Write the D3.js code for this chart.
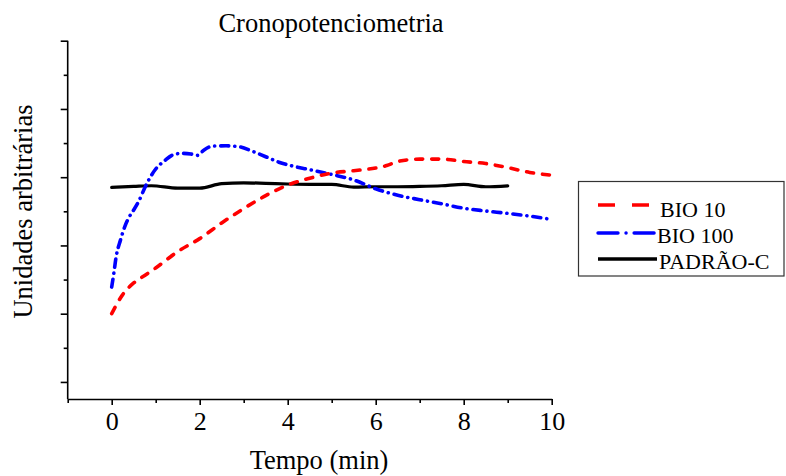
<!DOCTYPE html>
<html>
<head>
<meta charset="utf-8">
<script src="https://cdn.jsdelivr.net/npm/d3@7"></script>
<style>
  html, body { margin: 0; padding: 0; background: #fff; }
  svg { display: block; }
  text { font-family: "Liberation Serif", "Times New Roman", serif; fill: #000; }
</style>
</head>
<body>
<svg id="chart" width="786" height="476"></svg>
<script>
// ---- data ----
const title = "Cronopotenciometria";
const xLabel = "Tempo (min)";
const yLabel = "Unidades arbitrárias";
const xMajorTicks = [0, 2, 4, 6, 8, 10];
const xMinorTicks = [-1, 1, 3, 5, 7, 9];
const yMajorTicks = [0, 1, 2, 3, 4, 5];
const yMinorTicks = [0.5, 1.5, 2.5, 3.5, 4.5];

const bio10T = [0, 0.25, 0.5, 0.75, 1, 1.5, 2, 2.5, 3, 3.5, 4, 4.5, 5, 5.5, 6, 6.25, 6.5, 7, 7.5, 8, 8.5, 9, 9.5, 10];
const bio10V = [1.0, 1.28, 1.45, 1.56, 1.67, 1.91, 2.10, 2.33, 2.54, 2.73, 2.885, 2.985, 3.06, 3.095, 3.135, 3.17, 3.23, 3.265, 3.265, 3.23, 3.20, 3.14, 3.07, 3.03];

const bio100T = [0, 0.05, 0.1, 0.2, 0.3, 0.4, 0.5, 0.6, 0.8, 1.0, 1.2, 1.4, 1.6, 1.8, 1.95, 2.1, 2.3, 2.6, 2.9, 3.2, 3.5, 3.8, 4.1, 4.5, 5, 5.5, 6, 6.5, 7, 7.5, 8, 8.5, 9, 9.5, 10];
const bio100V = [1.39, 1.6, 1.83, 2.08, 2.28, 2.42, 2.52, 2.63, 2.91, 3.12, 3.24, 3.33, 3.35, 3.34, 3.32, 3.40, 3.455, 3.46, 3.446, 3.38, 3.30, 3.22, 3.165, 3.11, 3.04, 2.96, 2.83, 2.735, 2.67, 2.61, 2.545, 2.505, 2.47, 2.43, 2.38];

const padraoT = [0, 0.5, 0.9, 1.5, 2, 2.5, 3, 3.5, 4, 4.5, 5, 5.5, 6, 6.5, 7, 7.5, 8, 8.5, 9];
const padraoV = [2.85, 2.865, 2.875, 2.84, 2.84, 2.905, 2.918, 2.91, 2.90, 2.895, 2.895, 2.855, 2.86, 2.86, 2.865, 2.875, 2.894, 2.86, 2.874];

const seriesNames = ["BIO 10", "BIO 100", "PADRÃO-C"];
const seriesColors = ["#ff0000", "#0000ff", "#000000"];

// ---- layout ----
const svg = d3.select("#chart");
const x = d3.scaleLinear().domain([-1, 10]).range([67.7, 551.7]);
const y = d3.scaleLinear().domain([-0.25, 5]).range([399, 40.7]);

// axes
const axisG = svg.append("g");
function styleAxis(g) {
  g.selectAll("path, line").attr("stroke", "#000").attr("stroke-width", 1.6);
}
const xMaj = axisG.append("g").attr("transform", `translate(0,${y(-0.25)})`)
  .call(d3.axisBottom(x).tickValues(xMajorTicks).tickSize(6).tickSizeOuter(0).tickFormat(d3.format("d")));
xMaj.call(styleAxis);
xMaj.selectAll("text").attr("font-size", 26).attr("dy", 0).attr("y", 31)
  .attr("font-family", '"Liberation Serif", "Times New Roman", serif');
const xMin = axisG.append("g").attr("transform", `translate(0,${y(-0.25)})`)
  .call(d3.axisBottom(x).tickValues(xMinorTicks).tickSize(4).tickSizeOuter(0).tickFormat(""));
xMin.call(styleAxis);
xMin.select("path").remove();

const yMaj = axisG.append("g").attr("transform", `translate(${x(-1)},0)`)
  .call(d3.axisLeft(y).tickValues(yMajorTicks).tickSize(7).tickSizeOuter(0).tickFormat(""));
yMaj.call(styleAxis);
const yMin = axisG.append("g").attr("transform", `translate(${x(-1)},0)`)
  .call(d3.axisLeft(y).tickValues(yMinorTicks).tickSize(4).tickSizeOuter(0).tickFormat(""));
yMin.call(styleAxis);
yMin.select("path").remove();
// make y axis line reach the top tick
yMaj.select("path").attr("d", `M0,${y(5)}V${y(-0.25)}`);

// lines
const line = d3.line().x(d => x(d[0])).y(d => y(d[1])).curve(d3.curveMonotoneX);
const plot = svg.append("g");
plot.append("path").datum(padraoT.map((t, i) => [t, padraoV[i]]))
  .attr("d", line).attr("fill", "none").attr("stroke", seriesColors[2])
  .attr("stroke-width", 3.2).attr("stroke-linecap", "round");
plot.append("path").datum(bio100T.map((t, i) => [t, bio100V[i]]))
  .attr("d", line).attr("fill", "none").attr("stroke", seriesColors[1])
  .attr("stroke-width", 3.6).attr("stroke-linecap", "round")
  .attr("stroke-dasharray", "8,6,0.1,6");
plot.append("path").datum(bio10T.map((t, i) => [t, bio10V[i]]))
  .attr("d", line).attr("fill", "none").attr("stroke", seriesColors[0])
  .attr("stroke-width", 3.6).attr("stroke-linecap", "round")
  .attr("stroke-dasharray", "7,9");

// titles
svg.append("text").attr("x", 331).attr("y", 31.5).attr("text-anchor", "middle")
  .attr("font-size", 26.5).text(title);
svg.append("text").attr("x", 319).attr("y", 469).attr("text-anchor", "middle")
  .attr("font-size", 26.5).text(xLabel);
svg.append("text").attr("transform", "translate(32,211.5) rotate(-90)")
  .attr("text-anchor", "middle").attr("font-size", 26.5).text(yLabel);

// legend
const lg = svg.append("g");
lg.append("rect").attr("x", 578.5).attr("y", 181.5).attr("width", 205.5).attr("height", 94.5)
  .attr("fill", "#fff").attr("stroke", "#333").attr("stroke-width", 1.2);
const legendDash = ["17,17", "20,8,0.1,8", null];
const legendRows = [205, 233, 259];
const legendTextY = [216.7, 242.7, 268.7];
const legendTextX = [660, 657, 659];
seriesNames.forEach((name, i) => {
  const l = lg.append("line").attr("x1", 598).attr("x2", i === 0 ? 649 : 657)
    .attr("y1", legendRows[i]).attr("y2", legendRows[i])
    .attr("stroke", seriesColors[i]).attr("stroke-width", 3.4);
  if (legendDash[i]) l.attr("stroke-dasharray", legendDash[i]).attr("stroke-linecap", i === 1 ? "round" : "butt");
  lg.append("text").attr("x", legendTextX[i]).attr("y", legendTextY[i])
    .attr("font-size", 22).text(name);
});
</script>
</body>
</html>
